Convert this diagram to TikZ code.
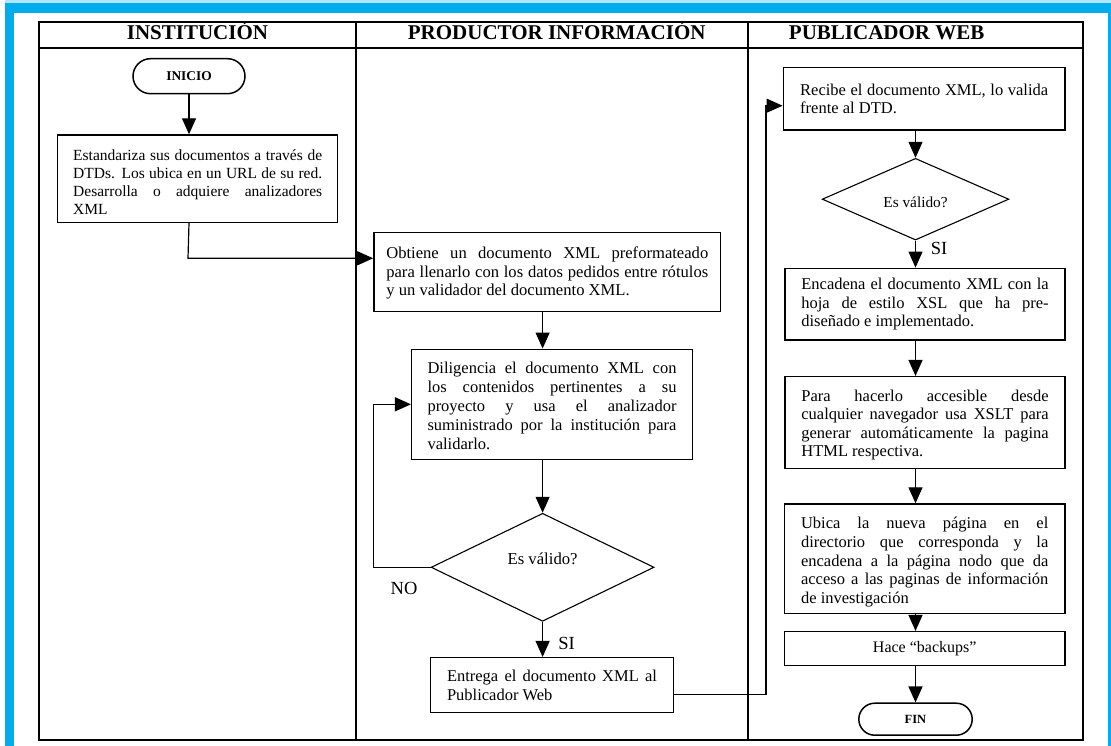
\documentclass[tikz,border=0pt]{standalone}
\usepackage{fontspec}
\setmainfont{Liberation Serif}
\usetikzlibrary{shapes.geometric,shapes.misc,arrows.meta,calc}
\definecolor{frameblue}{RGB}{0,172,236}
\begin{document}
\begin{tikzpicture}[x=1pt,y=-1pt,
  lane/.style={draw=black,line width=1.5pt},
  procbox/.style={draw=black,line width=1.5pt,rectangle,inner xsep=0pt,inner ysep=0pt,align=justify},
  term/.style={draw=black,line width=1.5pt,rounded rectangle,minimum width=112pt,minimum height=35pt,inner sep=0pt,font=\fontsize{13.4}{15}\selectfont\bfseries},
  decision/.style={draw=black,line width=1.1pt,diamond,inner sep=0pt},
  conn/.style={draw=black,line width=1.2pt},
  arr/.style={conn,-{Triangle[length=16pt,width=14pt]}},
  hdr/.style={font=\fontsize{21}{24}\selectfont\bfseries,anchor=base,inner sep=0pt},
  lbl/.style={font=\fontsize{18.5}{20}\selectfont,inner sep=0pt},
]
\useasboundingbox (0,0) rectangle (1111,746);
\fill[white] (0,0) rectangle (1111,746);
% blue frame
\fill[frameblue!30] (5,0) rectangle (1111,3.3);
\fill[frameblue] (5,3.3) rectangle (1111,12.7);
\fill[frameblue] (5,3.3) rectangle (14,746);
\fill[frameblue] (1107.7,3.3) rectangle (1111,746);
% swimlanes
\draw[lane] (39,22) rectangle (1083,740);
\draw[lane] (39,48) -- (1083,48);
\draw[lane] (356,22) -- (356,740);
\draw[lane] (748,22) -- (748,740);
\node[hdr] (h1) at (197.5,40) {INSTITUCIÓN};
\node[hdr] (h2) at (556.7,40) {PRODUCTOR INFORMACIÓN};
\node[hdr] (h3) at (886.7,40) {PUBLICADOR WEB};
% nodes
\node[term] (ini) at (189,76.2) {INICIO};
\node[procbox,text width=249pt,minimum width=280pt,minimum height=87.3pt,font=\fontsize{15.5}{17.7}\selectfont] (b1) at (197.7,178.7)
  {\rule{0pt}{17.7pt}Estandariza sus documentos a través de\linebreak DTDs. Los ubica en un URL de su red.\linebreak Desarrolla o adquiere analizadores\linebreak XML};
\node[procbox,text width=322pt,minimum width=346.7pt,minimum height=79pt,font=\fontsize{16.6}{18.6}\selectfont] (b2) at (547.3,272.2)
  {\rule{0pt}{13.4pt}Obtiene un documento XML preformateado\linebreak para llenarlo con los datos pedidos entre rótulos\linebreak y un validador del documento XML.};
\node[procbox,text width=249pt,minimum width=280.6pt,minimum height=110pt,font=\fontsize{16.5}{19}\selectfont] (b3) at (552,404.3)
  {\rule{0pt}{14.4pt}Diligencia el documento XML con\linebreak los contenidos pertinentes a su\linebreak proyecto y usa el analizador\linebreak suministrado por la institución para\linebreak validarlo.};
\node[decision,minimum width=223pt,minimum height=108pt,font=\fontsize{16.7}{18}\selectfont] (d1) at (542.6,567.3)
  {\raisebox{3pt}[0pt][0pt]{Es válido?}};
\node[procbox,text width=210pt,minimum width=242.6pt,minimum height=55pt,font=\fontsize{16.5}{19}\selectfont] (b4) at (552,685.2)
  {Entrega el documento XML al\linebreak Publicador Web};
\node[procbox,text width=248pt,minimum width=281.7pt,minimum height=62.3pt,font=\fontsize{16.5}{18.3}\selectfont] (b5) at (924.2,98.8)
  {Recibe el documento XML, lo valida\linebreak frente al DTD.};
\node[decision,minimum width=186.6pt,minimum height=81.7pt,font=\fontsize{15.3}{17}\selectfont] (d2) at (915.5,199.2)
  {\raisebox{-8pt}[0pt][0pt]{Es válido?}};
\node[procbox,text width=247.3pt,minimum width=280pt,minimum height=71.7pt,font=\fontsize{16.5}{18.2}\selectfont] (b6) at (925,304.2)
  {Encadena el documento XML con la\linebreak hoja de estilo XSL que ha pre-\linebreak diseñado e implementado.};
\node[procbox,text width=247.3pt,minimum width=280pt,minimum height=91.6pt,font=\fontsize{16.5}{18.3}\selectfont] (b7) at (925,422.5)
  {\rule{0pt}{16.4pt}Para hacerlo accesible desde\linebreak cualquier navegador usa XSLT para\linebreak generar automáticamente la pagina\linebreak HTML respectiva.};
\node[procbox,text width=247.3pt,minimum width=280.7pt,minimum height=109.3pt,font=\fontsize{16.5}{18.75}\selectfont] (b8) at (924.7,558.7)
  {\rule{0pt}{18.4pt}Ubica la nueva página en el\linebreak directorio que corresponda y la\linebreak encadena a la página nodo que da\linebreak acceso a las paginas de información\linebreak de investigación};
\node[procbox,align=center,minimum width=280.7pt,minimum height=34pt,font=\fontsize{16}{18}\selectfont] (b9) at (924.7,648.7)
  {Hace “backups”};
\node[term,minimum width=113.4pt,minimum height=32pt,font=\fontsize{12.5}{14}\selectfont\bfseries] (fin) at (915.5,719.2) {FIN};
% labels
\node[lbl] (no1) at (404,588.3) {NO};
\node[lbl] (si1) at (566.5,643.3) {SI};
\node[lbl] (si2) at (939,248.5) {SI};
% coordinates for bends
\coordinate (j1) at (188,258.3);
\coordinate (j3) at (766,694.3);
\coordinate (j4) at (766,105.7);
% connectors
\draw[arr] (ini.south) -- (b1.north -| ini);
\draw[arr] (b1.south -| ini) -- (j1) -- (b2.west |- j1);
\draw[arr] (b2.south -| d1) -- (b3.north -| d1);
\draw[arr] (b3.south -| d1) -- (d1.north);
\draw[arr] (d1.west) -- ++(-56.7,0) |- (b3.west);
\draw[arr] (d1.south) -- (b4.north -| d1);
\draw[arr] (b4.east |- j3) -- (j3) -- (j4) -- (b5.west |- j4);
\draw[arr] (b5.south -| d2) -- (d2.north);
\draw[arr] (d2.south) -- (b6.north -| d2);
\draw[arr] (b6.south -| d2) -- (b7.north -| d2);
\draw[arr] (b7.south -| d2) -- (b8.north -| d2);
\draw[arr] (b8.south -| d2) -- (b9.north -| d2);
\draw[arr] (b9.south -| d2) -- (fin.north);
\end{tikzpicture}
\end{document}
